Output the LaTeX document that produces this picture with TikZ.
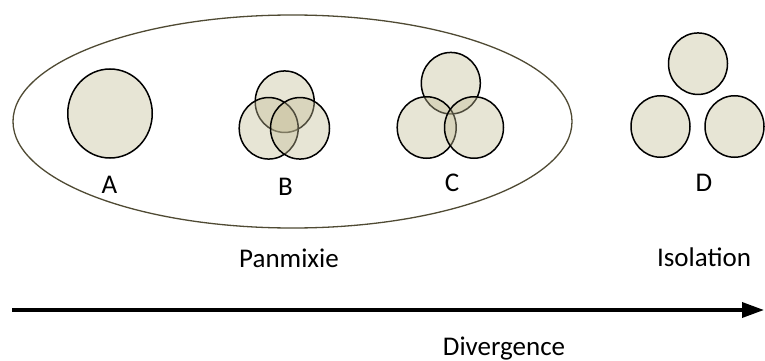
\documentclass[tikz,border=0pt]{standalone}
\usepackage{fontspec}
\setmainfont{Carlito}
\usetikzlibrary{arrows.meta,shapes.geometric}
\definecolor{popfill}{HTML}{C4BD97}
\definecolor{ringcol}{HTML}{4F4A33}
\tikzset{
  pop/.style={ellipse, draw=black, line width=1.5pt, fill=popfill, fill opacity=0.4, draw opacity=1, text opacity=1, inner sep=0pt, minimum width=59pt, minimum height=61.5pt},
  bigpop/.style={pop, minimum width=84.5pt, minimum height=89pt},
  ring/.style={ellipse, draw=ringcol, line width=1.3pt, inner sep=0pt, minimum width=559pt, minimum height=213pt},
  lbl/.style={font=\fontsize{27}{30}\selectfont, anchor=base, inner sep=0pt},
  axis/.style={line width=3.5pt, -{Triangle[length=22pt,width=15pt]}}
}
\begin{document}
\begin{tikzpicture}[x=1pt,y=-1pt]
\useasboundingbox (0,0) rectangle (765,361);
\node[ring] (pan) at (292.5,121.5) {};
% A
\node[bigpop] (a) at (110,113.5) {};
% B
\node[pop] (bt) at (284.7,101.7) {};
\node[pop] (bl) at (268.7,128.3) {};
\node[pop] (br) at (300,128.3) {};
% C
\node[pop] (ct) at (450.8,83.2) {};
\node[pop] (cl) at (426.7,127.5) {};
\node[pop] (cr) at (474,127.5) {};
% D
\node[pop] (dt) at (698,63.7) {};
\node[pop] (dl) at (660.5,126.5) {};
\node[pop] (dr) at (734.5,126.5) {};
% labels
\node[lbl] (la) at (109.5,193.3) {A};
\node[lbl] (lb) at (285.5,195) {B};
\node[lbl] (lc) at (452,191.7) {C};
\node[lbl] (ld) at (704,191.7) {D};
\node[lbl] (lpan) at (289,267.3) {Panmixie};
\node[lbl] (liso) at (704,266.7) {Isolation};
\node[lbl] (ldiv) at (504,355.7) {Divergence};
% axis
\coordinate (s) at (12,310);
\coordinate (e) at (764,310);
\draw[axis] (s) -- (e);
\end{tikzpicture}
\end{document}
